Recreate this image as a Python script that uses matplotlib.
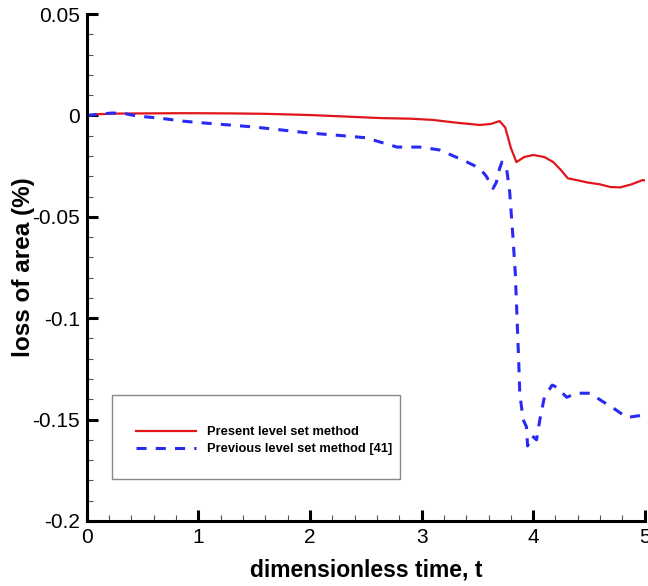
import numpy as np
import matplotlib.pyplot as plt
from matplotlib.patches import Rectangle
from matplotlib.ticker import MultipleLocator

plt.rcParams['font.family'] = ['Liberation Sans', 'DejaVu Sans']
plt.rcParams['axes.unicode_minus'] = False

# present level set method (red)
tPresent = [0.0, 0.1, 0.25, 0.5, 0.8, 1.0, 1.3, 1.6, 2.0, 2.3, 2.63, 2.9, 3.1, 3.3, 3.52, 3.62,
            3.70, 3.75, 3.80, 3.85, 3.92, 4.0, 4.1, 4.18, 4.25, 4.31, 4.4, 4.48, 4.6, 4.69,
            4.78, 4.88, 4.98, 5.0]
lossPresent = [0.0, 0.0006, 0.0009, 0.001, 0.0011, 0.0011, 0.001, 0.0008, 0.0002, -0.0005, -0.0013,
               -0.0016, -0.0022, -0.0035, -0.0047, -0.0042, -0.0028, -0.006, -0.016, -0.023,
               -0.0205, -0.0195, -0.0205, -0.023, -0.027, -0.031, -0.032, -0.033, -0.034, -0.0353,
               -0.0355, -0.034, -0.0319, -0.032]

# previous level set method [41] (blue)
tPrevious = [0.0, 0.1, 0.23, 0.35, 0.45, 0.65, 0.86, 1.0, 1.25, 1.5, 1.75, 2.0, 2.25, 2.5, 2.78,
             2.98, 3.16, 3.37, 3.52, 3.58, 3.64, 3.67, 3.70, 3.72, 3.76, 3.79, 3.82, 3.84, 3.87,
             3.88, 3.91, 3.94, 3.95, 3.99, 4.03, 4.06, 4.1, 4.17, 4.21, 4.30, 4.39, 4.51, 4.62,
             4.71, 4.84, 4.96, 5.0]
lossPrevious = [0.0, 0.0006, 0.0012, 0.0008, -0.0003, -0.0013, -0.0028, -0.0035, -0.0046, -0.0057,
                -0.0072, -0.0087, -0.0098, -0.011, -0.0156, -0.0156, -0.017, -0.022, -0.026, -0.030,
                -0.036, -0.033, -0.026, -0.023, -0.0254, -0.038, -0.061, -0.078, -0.1206, -0.137,
                -0.150, -0.1536, -0.163, -0.158, -0.160, -0.150, -0.139, -0.133, -0.134, -0.139,
                -0.137, -0.137, -0.141, -0.144, -0.149, -0.148, -0.145]

yTicks = [0.05, 0, -0.05, -0.1, -0.15, -0.2]
yTickLabels = ['0.05', '0', '-0.05', '-0.1', '-0.15', '-0.2']

fig = plt.figure(figsize=(6.48, 5.86), dpi=100)
ax = fig.add_axes([0.134, 0.111, 0.861, 0.865])

ax.plot(tPresent, lossPresent, '-', color='#e0161b', linewidth=1.6, label='Present level set method')
ax.plot(tPrevious, lossPrevious, '--', color='#2a2af5', linewidth=2.2, dashes=(3.3, 3.0),
        label='Previous level set method [41]')

ax.set_xlim(0, 5)
ax.set_ylim(-0.2, 0.05)
ax.xaxis.set_major_locator(MultipleLocator(1))
ax.xaxis.set_minor_locator(MultipleLocator(0.2))
ax.yaxis.set_minor_locator(MultipleLocator(0.01))
ax.set_yticks(yTicks)
ax.set_yticklabels(yTickLabels)

for s in ['top', 'right']:
    ax.spines[s].set_visible(False)
for s in ['left', 'bottom']:
    ax.spines[s].set_linewidth(2.2)

ax.tick_params(which='major', direction='in', length=8, width=2.2, labelsize=15, pad=5)
ax.tick_params(which='minor', direction='in', length=4, width=0.8, color='#555555')

ax.set_xlabel('dimensionless time, t', fontsize=16.5, fontweight='bold', labelpad=8)
ax.set_ylabel('loss of area (%)', fontsize=17.5, fontweight='bold', labelpad=-2)

# legend box
ax.add_patch(Rectangle((0.045, 0.083), 0.516, 0.166, transform=ax.transAxes,
                       fill=False, edgecolor='#888888', linewidth=1.0, zorder=3))
ax.legend(loc='center', bbox_to_anchor=(0.318, 0.158), frameon=False,
          prop={'size': 9.3, 'weight': 'bold'}, handlelength=4.6, handletextpad=0.9,
          labelspacing=0.38)

fig.savefig('out.png', dpi=100)
